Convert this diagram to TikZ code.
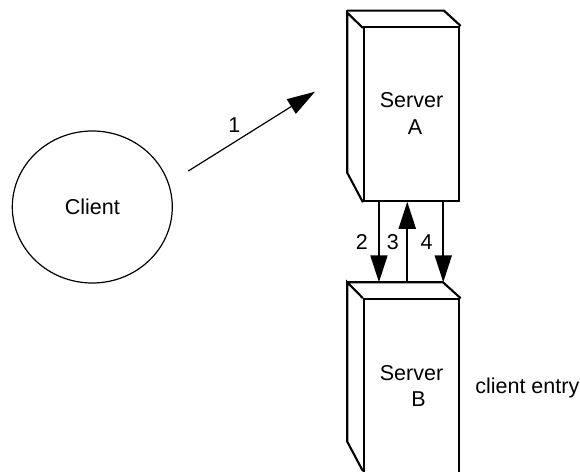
\documentclass[tikz,border=0pt]{standalone}
\usepackage{fontspec}
\setmainfont{Liberation Sans}
\usetikzlibrary{arrows.meta,shapes.geometric,calc}
\begin{document}
\begin{tikzpicture}[x=1pt,y=-1pt,
  every node/.style={font=\fontsize{21.5}{26.7}\selectfont},
  front/.style={draw,line width=2.1pt,minimum width=95.6pt,minimum height=174pt,inner sep=0pt,align=center},
  edge3d/.style={line width=2.1pt,line cap=round},
  bigarrow/.style={line width=2pt,-{Triangle[length=27pt,width=17pt]}},
  thinarrow/.style={line width=1.2pt,-{Triangle[length=28pt,width=17pt]}},
  clientnode/.style={draw,ellipse,line width=1.2pt,minimum width=160pt,minimum height=152pt,inner sep=0pt},
  lbl/.style={inner sep=0pt}]
\useasboundingbox (0,0) rectangle (580,471);
\clip (0,0) rectangle (580,471);
% Client
\node[clientnode] (C) at (92.3,207) {Client};
% Server A
\node[front] (A) at (411.5,113.7) {Server\\\hspace*{7pt}A};
\draw[edge3d] (A.south west) -- ++(-15.4,-29) -- ++(0,-160) -- ++(15.4,15)
  ($(A.north west)+(-15.4,-15)$) -- ++(96.7,0) -- (A.north east);
% Server B
\node[front] (B) at (411.5,386) {Server\\\hspace*{14pt}B};
\coordinate (Bbk) at ($(B.north west)+(-15.4,-15.7)$);
\draw[edge3d] (B.north west) -- (Bbk) -- ++(0,159.4) -- ++(15.4,29)
  (Bbk) -- ++(95.7,0) -- (B.north east);
% client entry
\node (CE) at (527.3,388.3) {client entry};
% arrow 1
\coordinate (p1) at (188.3,171);
\coordinate (p2) at (315,91.7);
\draw[thinarrow] (p1) -- node[lbl,xshift=-17.4pt,yshift=6.4pt] {1} (p2);
% arrows 2,3,4
\path ($(A.south west)+(16.3,0)$) coordinate (a2)
      ($(A.south west)+(44.6,0)$) coordinate (a3)
      ($(A.south west)+(80.6,0)$) coordinate (a4);
\draw[bigarrow] (a2) -- node[lbl,xshift=-17pt] {2} (a2 |- Bbk);
\draw[bigarrow] (a3 |- Bbk) -- node[lbl,xshift=-14.3pt] {3} (a3);
\draw[bigarrow] (a4) -- node[lbl,xshift=-16.6pt] {4} (a4 |- Bbk);
\end{tikzpicture}
\end{document}
